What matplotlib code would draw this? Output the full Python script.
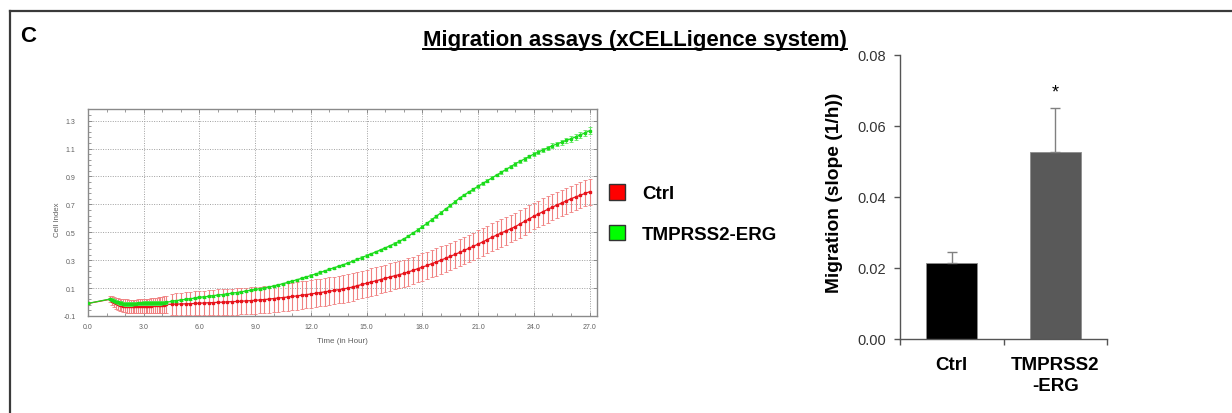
import numpy as np
import matplotlib
matplotlib.use("Agg")
import matplotlib.pyplot as plt
from matplotlib.patches import Patch
from matplotlib.lines import Line2D
from matplotlib.ticker import FixedLocator, MultipleLocator, FormatStrFormatter

plt.rcParams['font.family'] = ['Liberation Sans', 'DejaVu Sans']

# ---------------- data ----------------
# xCELLigence sweeps: a baseline sweep, a dense sweep after seeding, then every 15 min
t_start = [0.0, 1.2]
t_dense = np.round(np.arange(1.3, 4.21, 0.1), 2)
t_late = np.arange(4.5, 27.01, 0.25)

ctrl_start = [-0.010, 0.020]
ctrl_dense = [0.010, 0.000, -0.008, -0.014, -0.019, -0.022, -0.025, -0.027,
              -0.028, -0.029, -0.030, -0.030, -0.030, -0.030, -0.030, -0.029,
              -0.029, -0.028, -0.028, -0.027, -0.026, -0.025, -0.024, -0.023,
              -0.022, -0.021, -0.020, -0.019, -0.018, -0.017]
ctrl_late = [-0.016, -0.015, -0.014, -0.013, -0.012, -0.010, -0.008, -0.007,
             -0.005, -0.004, -0.002, -0.001, 0.001, 0.003, 0.004, 0.006,
             0.008, 0.010, 0.012, 0.015, 0.018, 0.021, 0.025, 0.029,
             0.032, 0.036, 0.040, 0.044, 0.049, 0.053, 0.058, 0.063,
             0.068, 0.073, 0.078, 0.083, 0.089, 0.094, 0.100, 0.108,
             0.117, 0.126, 0.135, 0.144, 0.152, 0.161, 0.170, 0.179,
             0.188, 0.196, 0.205, 0.216, 0.227, 0.239, 0.250, 0.262,
             0.275, 0.287, 0.300, 0.314, 0.327, 0.341, 0.355, 0.370,
             0.385, 0.400, 0.415, 0.431, 0.448, 0.464, 0.480, 0.495,
             0.510, 0.525, 0.540, 0.559, 0.578, 0.596, 0.615, 0.631,
             0.648, 0.664, 0.680, 0.695, 0.710, 0.725, 0.740, 0.753,
             0.765, 0.778, 0.790]

ctrl_err_start = [0.005, 0.020]
ctrl_err_dense = [0.030, 0.036, 0.040, 0.042, 0.044, 0.045, 0.046, 0.046,
                  0.047, 0.047, 0.047, 0.048, 0.048, 0.048, 0.049, 0.049,
                  0.050, 0.050, 0.050, 0.051, 0.051, 0.052, 0.052, 0.053,
                  0.054, 0.055, 0.056, 0.058, 0.060, 0.062]
ctrl_err_late = [0.075, 0.078, 0.080, 0.082, 0.084, 0.086, 0.088, 0.089,
                 0.090, 0.091, 0.092, 0.092, 0.093, 0.093, 0.094, 0.094,
                 0.095, 0.095, 0.096, 0.096, 0.096, 0.097, 0.097, 0.097,
                 0.098, 0.098, 0.098, 0.098, 0.099, 0.099, 0.099, 0.099,
                 0.099, 0.099, 0.099, 0.099, 0.099, 0.099, 0.099, 0.099,
                 0.098, 0.098, 0.098, 0.098, 0.098, 0.098, 0.098, 0.098,
                 0.098, 0.098, 0.098, 0.098, 0.098, 0.098, 0.098, 0.098,
                 0.098, 0.098, 0.098, 0.098, 0.098, 0.098, 0.098, 0.098,
                 0.098, 0.098, 0.099, 0.099, 0.099, 0.099, 0.099, 0.099,
                 0.098, 0.098, 0.097, 0.097, 0.096, 0.096, 0.095, 0.095,
                 0.095, 0.095, 0.094, 0.094, 0.094, 0.094, 0.093, 0.093,
                 0.093, 0.093, 0.093]

erg_start = [-0.010, 0.022]
erg_dense = [0.016, 0.009, 0.003, -0.002, -0.006, -0.009, -0.011, -0.012,
             -0.012, -0.012, -0.012, -0.011, -0.011, -0.011, -0.010, -0.010,
             -0.010, -0.009, -0.009, -0.008, -0.008, -0.007, -0.007, -0.006,
             -0.006, -0.005, -0.005, -0.004, -0.004, -0.003]
erg_late = [0.005, 0.010, 0.015, 0.019, 0.024, 0.028, 0.033, 0.037,
            0.041, 0.046, 0.050, 0.054, 0.059, 0.063, 0.068, 0.073,
            0.079, 0.084, 0.090, 0.096, 0.102, 0.108, 0.115, 0.123,
            0.132, 0.141, 0.150, 0.160, 0.170, 0.180, 0.190, 0.201,
            0.212, 0.223, 0.235, 0.246, 0.257, 0.268, 0.280, 0.293,
            0.306, 0.319, 0.333, 0.346, 0.360, 0.374, 0.388, 0.403,
            0.419, 0.435, 0.452, 0.473, 0.495, 0.517, 0.540, 0.565,
            0.590, 0.615, 0.640, 0.666, 0.692, 0.718, 0.745, 0.767,
            0.788, 0.809, 0.830, 0.850, 0.870, 0.890, 0.910, 0.930,
            0.950, 0.970, 0.990, 1.008, 1.025, 1.043, 1.060, 1.075,
            1.090, 1.105, 1.120, 1.133, 1.145, 1.158, 1.170, 1.183,
            1.197, 1.212, 1.228]

erg_err_start = [0.004, 0.006]
erg_err_dense = [0.010] * 2 + [0.013] * 28
erg_err_late = ([0.007] * 24 + [0.008] * 24 + [0.010] * 24 + [0.012] * 8 +
                [0.014, 0.015, 0.016, 0.017, 0.018, 0.019, 0.020, 0.021] +
                [0.022, 0.024, 0.026])

groups = ["Ctrl", "TMPRSS2-ERG"]
bar_labels = ["Ctrl", "TMPRSS2\n-ERG"]
slope_mean = [0.0215, 0.0528]
slope_sem = [0.0031, 0.0122]

# ---------------- layout helpers ----------------
W, H = 1232, 414
fig = plt.figure(figsize=(W / 100, H / 100), dpi=100)


def fx(px):
    return px / W


def fy(py):
    return 1 - py / H


# frame of the panel
fig.add_artist(Line2D([fx(10), 1.0], [fy(12), fy(12)], color='#3a3a3a', lw=1.6))
fig.add_artist(Line2D([fx(10), fx(10)], [fy(12), 0.0], color='#3a3a3a', lw=1.6))

fig.text(fx(20), fy(42), "C", fontsize=16, fontweight='bold', va='baseline', ha='left')
title = fig.text(fx(635), fy(46), "Migration assays (xCELLigence system)",
                 fontsize=16, fontweight='bold', va='baseline', ha='center')

# ---------------- cell index curves ----------------
ax = fig.add_axes([fx(88), fy(317), (597 - 88) / W, (317 - 110) / H])

t_all = np.concatenate([t_start, t_dense, t_late])
ctrl_all = np.concatenate([ctrl_start, ctrl_dense, ctrl_late])
ctrl_err = np.concatenate([ctrl_err_start, ctrl_err_dense, ctrl_err_late])
erg_all = np.concatenate([erg_start, erg_dense, erg_late])
erg_err = np.concatenate([erg_err_start, erg_err_dense, erg_err_late])

ax.errorbar(t_all, ctrl_all, yerr=ctrl_err, fmt='-s', color='#e8141c', ms=1.8,
            lw=0.9, ecolor='#f08282', elinewidth=0.8, capsize=1.2, capthick=0.6,
            zorder=3, clip_on=True)
ax.errorbar(t_all, erg_all, yerr=erg_err, fmt='-s', color='#1bdc1b', ms=1.8,
            lw=0.9, ecolor='#5ee85e', elinewidth=0.8, capsize=1.2, capthick=0.6,
            zorder=4, clip_on=True)

ax.set_xlim(0, 27.4)
ax.set_ylim(-0.1, 1.383)
ax.xaxis.set_major_locator(MultipleLocator(3))
ax.xaxis.set_minor_locator(MultipleLocator(1))
ax.xaxis.set_major_formatter(FormatStrFormatter('%.1f'))
ax.yaxis.set_major_locator(FixedLocator([-0.1, 0.1, 0.3, 0.5, 0.7, 0.9, 1.1, 1.3]))
ax.yaxis.set_minor_locator(FixedLocator(np.round(np.arange(-0.1, 1.38, 0.04), 3)))
ax.yaxis.set_major_formatter(FormatStrFormatter('%.1f'))
ax.grid(True, which='major', linestyle=(0, (1, 1.5)), color='#a0a0a0', lw=0.7)
ax.set_axisbelow(True)
for s in ax.spines.values():
    s.set_color('#8a8a8a')
    s.set_linewidth(1.0)
ax.tick_params(which='both', direction='in', top=True, right=True,
               colors='#8a8a8a', labelcolor='#606060', labelsize=5)
ax.tick_params(which='major', length=3, width=0.7)
ax.tick_params(which='minor', length=2, width=0.6)
ax.tick_params(axis='y', which='minor', right=False)
ax.tick_params(axis='y', pad=9)
ax.tick_params(axis='x', pad=5)
ax.set_ylabel("Cell Index", fontsize=5.6, color='#606060')
ax.set_xlabel("Time (in Hour)", fontsize=5.8, color='#606060')
ax.yaxis.set_label_coords((61 - 88) / (597 - 88), 0.47)
ax.xaxis.set_label_coords(0.5, -(338 - 317) / (317 - 110))

handles = [Patch(facecolor='#ff0000', edgecolor='#333333', lw=1.0),
           Patch(facecolor='#00ff00', edgecolor='#333333', lw=1.0)]
fig.legend(handles, groups, loc='upper left', bbox_to_anchor=(fx(609), fy(185)),
           frameon=False, prop={'size': 13.5, 'weight': 'bold'},
           handlelength=0.85, handleheight=0.9, handletextpad=0.9,
           labelspacing=1.2, borderpad=0, borderaxespad=0)

# ---------------- migration slope bars ----------------
bx = fig.add_axes([fx(900), fy(340), (1107 - 900) / W, (340 - 56) / H])
xpos = np.arange(len(groups))
bx.bar(xpos, slope_mean, width=0.49, color=['#000000', '#595959'],
       edgecolor='#8c8c8c', lw=0.6, zorder=2)
bx.errorbar(xpos, slope_mean, yerr=[np.zeros(len(groups)), slope_sem], fmt='none',
            ecolor='#808080', elinewidth=1.0, capsize=3.5, capthick=1.0, zorder=3)
bx.text(xpos[1], slope_mean[1] + slope_sem[1] + 0.0045, "*", ha='center',
        va='center', fontsize=13)
bx.set_xlim(-0.5, 1.5)
bx.set_ylim(0, 0.08)
bx.set_yticks([0.0, 0.02, 0.04, 0.06, 0.08])
bx.yaxis.set_major_formatter(FormatStrFormatter('%.2f'))
bx.set_xticks([-0.5, 0.5, 1.5])
bx.set_xticklabels([])
bx.set_xticks(xpos, minor=True)
bx.set_xticklabels(bar_labels, minor=True, fontsize=13.5, fontweight='bold',
                   linespacing=1.3)
bx.tick_params(axis='x', which='minor', length=0, pad=12)
bx.tick_params(axis='x', which='major', length=4, width=1, color='#555555')
bx.tick_params(axis='y', length=4, width=1, color='#555555', labelsize=10.5,
               labelcolor='#333333', pad=6)
for side in ('top', 'right'):
    bx.spines[side].set_visible(False)
for side in ('left', 'bottom'):
    bx.spines[side].set_color('#555555')
    bx.spines[side].set_linewidth(1.0)
bx.set_ylabel("Migration (slope (1/h))", fontsize=13.8, fontweight='bold')
bx.yaxis.set_label_coords((843 - 900) / (1107 - 900), 0.52)

# underline the title
fig.canvas.draw()
bb = title.get_window_extent()
fig.add_artist(Line2D([bb.x0 / W, bb.x1 / W], [fy(49.5), fy(49.5)], color='black', lw=1.4))

fig.savefig("out.png", dpi=100)
